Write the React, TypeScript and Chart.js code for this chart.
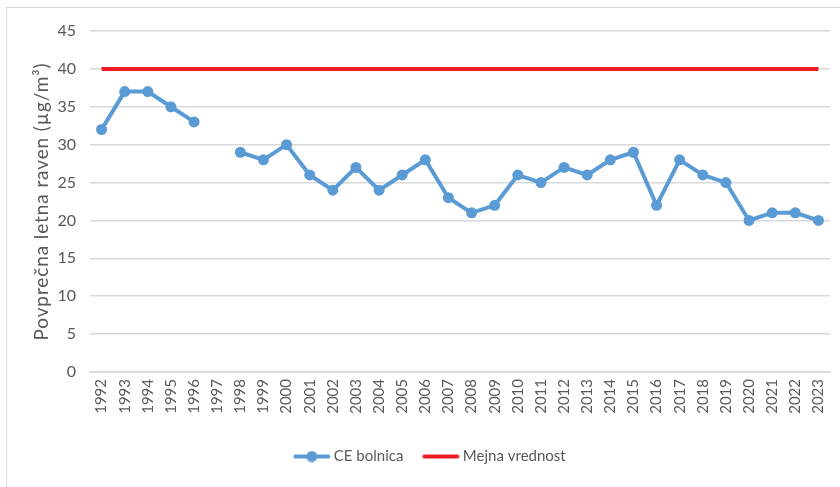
import React, { useEffect, useRef } from "react";
import { Chart, registerables } from "chart.js";

Chart.register(...registerables);

const years = [
  "1992", "1993", "1994", "1995", "1996", "1997", "1998", "1999", "2000", "2001",
  "2002", "2003", "2004", "2005", "2006", "2007", "2008", "2009", "2010", "2011",
  "2012", "2013", "2014", "2015", "2016", "2017", "2018", "2019", "2020", "2021",
  "2022", "2023",
];
const ceBolnica: (number | null)[] = [
  32, 37, 37, 35, 33, null, 29, 28, 30, 26,
  24, 27, 24, 26, 28, 23, 21, 22, 26, 25,
  27, 26, 28, 29, 22, 28, 26, 25, 20, 21,
  21, 20,
];
const mejnaVrednost: number[] = years.map(() => 40);
const yTicks = [0, 5, 10, 15, 20, 25, 30, 35, 40, 45];
const yTitle = "Povprečna letna raven (µg/m³)";

const BLUE = "#5B9BD5";
const RED = "#EE1C25";
const GRID = "#D9D9D9";
const TEXT = "#595959";
const FONT = "Lato, 'Open Sans', sans-serif";
const PW = 20;

function legendImage(color: string, withPoint: boolean): HTMLCanvasElement {
  const c = document.createElement("canvas");
  c.width = 50;
  c.height = 12;
  const ctx = c.getContext("2d")!;
  ctx.strokeStyle = color;
  ctx.lineWidth = 4;
  ctx.lineCap = "round";
  const x1 = 4;
  const x2 = 37;
  ctx.beginPath();
  ctx.moveTo(x1, 6);
  ctx.lineTo(x2, 6);
  ctx.stroke();
  if (withPoint) {
    ctx.fillStyle = color;
    ctx.beginPath();
    ctx.arc((x1 + x2) / 2, 6, 5.5, 0, Math.PI * 2);
    ctx.fill();
  }
  return c;
}

const titlePlugin = {
  id: "yTitle",
  afterLayout(chart: any) {
    if (chart.legend) {
      chart.legend.left += 6;
      chart.legend.right += 6;
    }
  },
  afterDraw(chart: any) {
    const { ctx, chartArea } = chart;
    ctx.save();
    ctx.translate(chartArea.left - 48, (chartArea.top + chartArea.bottom) / 2);
    ctx.rotate(-Math.PI / 2);
    ctx.font = `19px ${FONT}`;
    (ctx as any).letterSpacing = "0.9px";
    ctx.fillStyle = TEXT;
    ctx.textAlign = "center";
    ctx.textBaseline = "middle";
    ctx.fillText(yTitle, 0, 0);
    ctx.restore();
  },
};

export default function App() {
  const ref = useRef<HTMLCanvasElement>(null);
  useEffect(() => {
    if (!ref.current) return;
    const imgBlue = legendImage(BLUE, true);
    const imgRed = legendImage(RED, false);
    const chart = new Chart(ref.current, {
      type: "line",
      data: {
        labels: years,
        datasets: [
          {
            label: "CE bolnica",
            data: ceBolnica,
            borderColor: BLUE,
            backgroundColor: BLUE,
            borderWidth: 4,
            pointRadius: 5.5,
            pointHoverRadius: 5.5,
            pointBackgroundColor: BLUE,
            pointBorderWidth: 0,
            pointStyle: "circle",
            spanGaps: false,
            tension: 0,
          },
          {
            label: "Mejna vrednost",
            data: mejnaVrednost,
            borderColor: RED,
            backgroundColor: RED,
            borderWidth: 4,
            pointRadius: 0,
            tension: 0,
          },
        ],
      },
      options: {
        animation: false,
        responsive: false,
        maintainAspectRatio: false,
        layout: { padding: { left: 30, right: 10, top: 31, bottom: 13 } },
        plugins: {
          tooltip: { enabled: false },
          legend: {
            position: "bottom",
            labels: {
              usePointStyle: true,
              pointStyleWidth: PW,
              color: TEXT,
              font: { family: FONT, size: 15 },
              padding: 32,
              generateLabels: (ch: any) =>
                ch.data.datasets.map((ds: any, i: number) => ({
                  text: ds.label,
                  fillStyle: ds.borderColor,
                  strokeStyle: ds.borderColor,
                  lineWidth: 0,
                  pointStyle: i === 0 ? imgBlue : imgRed,
                  datasetIndex: i,
                  hidden: false,
                  fontColor: TEXT,
                })),
            },
          },
        },
        scales: {
          x: {
            offset: true,
            grid: { display: false, drawTicks: false },
            border: { display: true, color: GRID, width: 1.5 },
            ticks: {
              color: TEXT,
              font: { family: FONT, size: 15 },
              minRotation: 90,
              maxRotation: 90,
              autoSkip: false,
              padding: 7,
            },
            afterFit: (s: any) => {
              s.height = 45;
              s.paddingLeft = 0;
              s.paddingRight = 0;
            },
          },
          y: {
            min: 0,
            max: 45,
            afterBuildTicks: (s: any) => {
              s.ticks = yTicks.map((v) => ({ value: v }));
            },
            grid: { color: GRID, lineWidth: 1.5, drawTicks: false },
            border: { display: false },
            ticks: {
              color: TEXT,
              font: { family: FONT, size: 16 },
              padding: 14,
            },
            afterFit: (s: any) => {
              s.width = 60;
            },
          },
        },
      },
      plugins: [titlePlugin],
    });
    return () => chart.destroy();
  }, []);
  return (
    <div style={{ position: "absolute", left: 0, top: 0, width: 840, height: 487, background: "#fff" }}>
      <div
        style={{
          position: "absolute",
          left: 6,
          top: 7,
          width: 850,
          height: 490,
          border: "1.5px solid #D9D9D9",
          boxSizing: "border-box",
        }}
      />
      <canvas ref={ref} width={840} height={487} style={{ position: "absolute", left: 0, top: 0 }} />
    </div>
  );
}
